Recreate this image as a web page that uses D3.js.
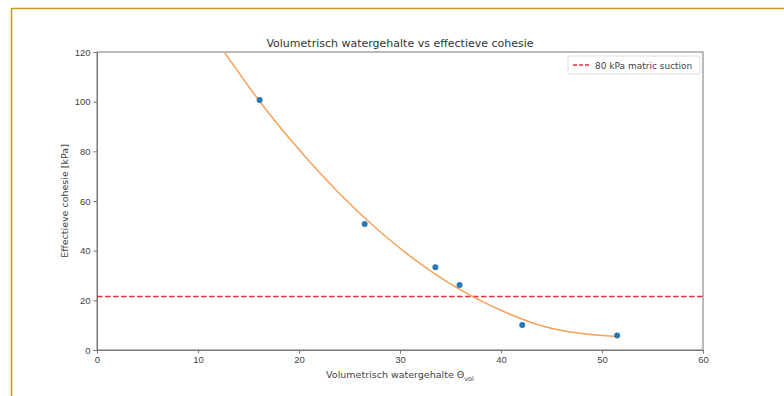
<!DOCTYPE html>
<html>
<head>
<meta charset="utf-8">
<script src="https://cdn.jsdelivr.net/npm/d3@7"></script>
<style>
  body { margin: 0; background: #fff; }
  svg { display: block; font-family: "DejaVu Sans", sans-serif; }
  .axis text { fill: #444; font-size: 9.5px; }
  .axis line, .axis path { stroke: #777; }
</style>
</head>
<body>
<div class="chart-wrapper"></div>
<script>
// measured points
const waterContent = [16.1, 26.5, 33.5, 35.9, 42.1, 51.5];
const cohesion = [100.7, 50.7, 33.3, 26.2, 10.1, 5.8];

// fitted curve
const fitX = [12.6, 16, 20, 24, 28, 32, 36, 40, 44, 48, 51.5];
const fitY = [120, 100.7, 80.7, 63.0, 47.7, 34.8, 24.2, 16.0, 9.8, 6.6, 5.4];

const suctionLevel = 21.5;
const xTicks = [0, 10, 20, 30, 40, 50, 60];
const yTicks = [0, 20, 40, 60, 80, 100, 120];

const W = 784, H = 396;
const margin = {top: 52, right: 81, bottom: 46, left: 97};
const width = W - margin.left - margin.right;
const height = H - margin.top - margin.bottom;

const svg = d3.select(".chart-wrapper").append("svg")
  .attr("width", W)
  .attr("height", H);

// golden frame around the figure
svg.append("rect")
  .attr("x", 11.5).attr("y", 8.5)
  .attr("width", W).attr("height", H)
  .attr("fill", "none")
  .attr("stroke", "#c49a1c")
  .attr("stroke-width", 1.5);

const g = svg.append("g")
  .attr("transform", "translate(" + margin.left + "," + margin.top + ")");

let xScale = d3.scaleLinear().domain([0, 60]).range([0, width]);
let yScale = d3.scaleLinear().domain([0, 120]).range([height, 0]);

g.append("clipPath").attr("id", "plot-clip")
  .append("rect").attr("width", width).attr("height", height);

// axes
g.append("g")
  .attr("class", "x axis")
  .attr("transform", "translate(0," + height + ")")
  .call(d3.axisBottom(xScale).tickValues(xTicks).tickSize(3.5).tickPadding(3));

g.append("g")
  .attr("class", "y axis")
  .call(d3.axisLeft(yScale).tickValues(yTicks).tickSize(3.5).tickPadding(3));

// frame (spines)
g.append("rect")
  .attr("width", width).attr("height", height)
  .attr("fill", "none").attr("stroke", "#777").attr("stroke-width", 1);

const plot = g.append("g").attr("clip-path", "url(#plot-clip)");

// horizontal dashed line
plot.append("line")
  .attr("x1", 0).attr("x2", width)
  .attr("y1", yScale(suctionLevel)).attr("y2", yScale(suctionLevel))
  .attr("stroke", "#e0323c").attr("stroke-width", 1.5)
  .attr("stroke-dasharray", "5.5,2.5");

// fitted curve
let line = d3.line()
  .x((d, i) => xScale(fitX[i]))
  .y(d => yScale(d))
  .curve(d3.curveMonotoneX);

plot.append("path")
  .datum(fitY)
  .attr("d", line)
  .attr("fill", "none")
  .attr("stroke", "#f4a15a")
  .attr("stroke-width", 1.5);

// points
plot.selectAll(".dot")
  .data(cohesion)
  .enter().append("circle")
  .attr("class", "dot")
  .attr("cx", (d, i) => xScale(waterContent[i]))
  .attr("cy", d => yScale(d))
  .attr("r", 3)
  .attr("fill", "#2b78b4");

// title
svg.append("text")
  .attr("x", margin.left + width / 2).attr("y", 47)
  .attr("text-anchor", "middle")
  .attr("fill", "#333").style("font-size", "11px")
  .text("Volumetrisch watergehalte vs effectieve cohesie");

// axis labels
const xl = svg.append("text")
  .attr("x", margin.left + width / 2).attr("y", 378)
  .attr("text-anchor", "middle")
  .attr("fill", "#444").style("font-size", "9.5px")
  .text("Volumetrisch watergehalte Θ");
xl.append("tspan").attr("dy", 2.5).style("font-size", "6.5px").text("vol");

svg.append("text")
  .attr("transform", "translate(68," + (margin.top + height / 2) + ") rotate(-90)")
  .attr("text-anchor", "middle")
  .attr("fill", "#444").style("font-size", "9.5px")
  .text("Effectieve cohesie [kPa]");

// legend
const lg = g.append("g").attr("transform", "translate(" + (width - 135) + ",4)");
lg.append("rect")
  .attr("width", 132).attr("height", 18).attr("rx", 2)
  .attr("fill", "#fff").attr("stroke", "#ddd");
lg.append("line")
  .attr("x1", 5).attr("x2", 22).attr("y1", 9).attr("y2", 9)
  .attr("stroke", "#e0323c").attr("stroke-width", 1.5)
  .attr("stroke-dasharray", "4,2");
lg.append("text")
  .attr("x", 27).attr("y", 12.5)
  .attr("fill", "#444").style("font-size", "9px")
  .text("80 kPa matric suction");
</script>
</body>
</html>
